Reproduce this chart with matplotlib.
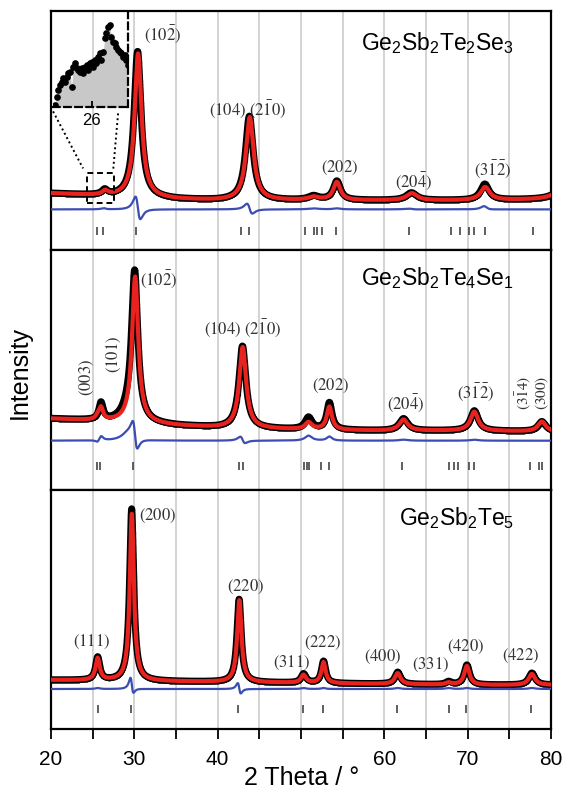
import numpy as np
import matplotlib.pyplot as plt
from matplotlib.patches import Rectangle

plt.rcParams["font.family"] = ["Liberation Sans", "DejaVu Sans"]
plt.rcParams["mathtext.fontset"] = "custom"
plt.rcParams["mathtext.rm"] = "Liberation Sans"
plt.rcParams["mathtext.it"] = "Liberation Sans:italic"

STEP = 0.02
two_theta = np.arange(20, 80 + STEP / 2, STEP)

# ---------------- Ge2Sb2Te2Se3 (top) ----------------
top_bg_pos = [20, 25, 30, 35, 40, 50, 60, 70, 80]
top_bg_val = [57, 55, 53, 51, 50, 50, 50, 50, 51]
top_calc_pos = [26.5, 30.45, 43.85, 51.5, 54.3, 63.3, 72.1, 81.5]
top_calc_h = [4, 144, 83, 3, 18, 7, 13, 14]
top_calc_w = [0.8, 1.0, 1.1, 1.5, 1.0, 1.5, 1.3, 2.0]
top_obs_pos = [26.45, 30.39, 43.8, 51.5, 54.3, 63.25, 72.05, 81.5]
top_obs_h = [5, 146, 84, 4, 19, 7.5, 16, 14]
top_obs_w = [0.8, 1.0, 1.1, 1.5, 1.0, 1.5, 1.2, 2.0]
top_diff_offset = 41
top_refl = [25.5, 26.3, 30.2, 42.8, 43.8, 50.5, 51.5, 51.9, 52.5, 54.2,
            63.0, 68.0, 69.1, 70.2, 70.7, 72.1, 77.8]
top_labels = [
    (r"$(10\bar{2})$", 31.2, 216, 0, "left", 12),
    (r"$(104)\ (2\bar{1}0)$", 43.6, 141, 0, "center", 12),
    (r"$(202)$", 54.6, 82, 0, "center", 12),
    (r"$(20\bar{4})$", 63.5, 69, 0, "center", 12),
    (r"$(3\bar{1}\bar{2})$", 73.0, 81, 0, "center", 12),
]

# ---------------- Ge2Sb2Te4Se1 (middle) ----------------
mid_bg_pos = [20, 25, 30, 35, 40, 45, 50, 60, 70, 80]
mid_bg_val = [71, 69, 67, 64, 62, 61, 60, 59, 59, 58]
mid_calc_pos = [25.6, 26.0, 30.1, 43.0, 50.9, 53.4, 62.3, 70.8, 78.9]
mid_calc_h = [3, 12, 146, 81, 7, 23, 11, 19, 10]
mid_calc_w = [0.6, 0.6, 0.9, 1.0, 1.0, 0.75, 1.2, 1.1, 1.1]
mid_obs_pos = [26.0, 29.2, 30.04, 42.97, 50.9, 53.4, 62.3, 70.8, 78.9]
mid_obs_h = [17, 7, 149, 82, 12, 27, 12, 20, 10]
mid_obs_w = [0.6, 1.8, 0.9, 1.0, 1.0, 0.75, 1.2, 1.1, 1.1]
mid_diff_offset = 49
mid_refl = [25.5, 25.9, 29.9, 42.6, 43.0, 50.3, 50.7, 50.9, 52.4, 53.3,
            62.1, 67.8, 68.3, 68.8, 70.2, 70.8, 77.5, 78.5, 78.9]
mid_labels = [
    (r"$(003)$", 24.3, 112, 90, "center", 12),
    (r"$(101)$", 27.6, 135, 90, "center", 12),
    (r"$(10\bar{2})$", 30.7, 210, 0, "left", 12),
    (r"$(104)\ (2\bar{1}0)$", 43.0, 161, 0, "center", 12),
    (r"$(202)$", 53.6, 104, 0, "center", 12),
    (r"$(20\bar{4})$", 62.5, 86, 0, "center", 12),
    (r"$(3\bar{1}\bar{2})$", 70.9, 97, 0, "center", 12),
    (r"$(3\bar{1}4)$", 76.8, 97, 90, "center", 11),
    (r"$(300)$", 78.95, 97, 90, "center", 11),
]

# ---------------- Ge2Sb2Te5 (bottom) ----------------
bot_bg_pos = [20, 30, 40, 50, 60, 70, 80]
bot_bg_val = [49, 48, 47, 46, 45, 44, 44]
bot_calc_pos = [25.6, 29.7, 42.6, 50.3, 52.7, 61.6, 67.7, 69.9, 77.7]
bot_calc_h = [22, 167, 82, 8, 21, 11, 2, 19, 11]
bot_calc_w = [0.6, 0.6, 0.62, 0.7, 0.6, 0.8, 0.8, 0.75, 0.9]
bot_obs_pos = [25.6, 29.68, 42.57, 50.3, 52.7, 61.6, 67.7, 69.9, 77.7]
bot_obs_h = [23, 172, 83, 9, 22, 12, 3, 20, 12]
bot_obs_w = [0.6, 0.6, 0.62, 0.7, 0.6, 0.8, 0.8, 0.75, 0.9]
bot_diff_offset = 40
bot_refl = [25.6, 29.6, 42.4, 50.2, 52.6, 61.5, 67.7, 69.8, 77.6]
bot_labels = [
    (r"$(111)$", 24.9, 87, 0, "center", 12),
    (r"$(200)$", 30.6, 213, 0, "left", 12),
    (r"$(220)$", 43.4, 142, 0, "center", 12),
    (r"$(311)$", 48.9, 66, 0, "center", 12),
    (r"$(222)$", 52.6, 86, 0, "center", 12),
    (r"$(400)$", 59.8, 72, 0, "center", 12),
    (r"$(331)$", 65.5, 64, 0, "center", 12),
    (r"$(420)$", 69.7, 82, 0, "center", 12),
    (r"$(422)$", 76.4, 73, 0, "center", 12),
]

titles = [r"Ge$_2$Sb$_2$Te$_2$Se$_3$", r"Ge$_2$Sb$_2$Te$_4$Se$_1$", r"Ge$_2$Sb$_2$Te$_5$"]
title_y = [0.866, 0.885, 0.882]
REFL_Y = [19, 24, 20]
x_ticks = [20, 30, 40, 50, 60, 70, 80]
x_ticklabels = ["20", "30", "40", "", "60", "70", "80"]

# zoomed view of the small bump around 26 deg in the top pattern
inset_x = np.linspace(24.39, 27.6, 45)
inset_obs = [2, 10.8, 17.7, 22.9, 26.4, 29.9, 26.4, 31.6, 35, 36.8, 21.2, 42, 45.5, 40.3, 38.5,
             36.8, 40.3, 35, 42, 43.7, 38.5, 45.5, 47.2, 42, 49, 45.5, 52.4, 55.9, 49, 57.6,
             71.5, 76.7, 83.7, 85.4, 73.3, 68, 66.3, 62.8, 59.4, 57.6, 55.9, 52.4, 54.2, 49, 43.7]


def profile(x, bg_pos, bg_val, pos, height, fwhm):
    y = np.interp(x, bg_pos, bg_val)
    for p, h, w in zip(pos, height, fwhm):
        y = y + h / (1 + (2 * (x - p) / w) ** 2)
    return y


panels = [
    (top_bg_pos, top_bg_val, top_calc_pos, top_calc_h, top_calc_w, top_obs_pos, top_obs_h, top_obs_w,
     top_diff_offset, top_refl, top_labels),
    (mid_bg_pos, mid_bg_val, mid_calc_pos, mid_calc_h, mid_calc_w, mid_obs_pos, mid_obs_h, mid_obs_w,
     mid_diff_offset, mid_refl, mid_labels),
    (bot_bg_pos, bot_bg_val, bot_calc_pos, bot_calc_h, bot_calc_w, bot_obs_pos, bot_obs_h, bot_obs_w,
     bot_diff_offset, bot_refl, bot_labels),
]

fig, axes = plt.subplots(3, 1, figsize=(5.64, 7.93), dpi=100, sharex=True)
fig.subplots_adjust(left=0.0904, right=0.977, top=0.986, bottom=0.0807, hspace=0)

for i, (ax, panel) in enumerate(zip(axes, panels)):
    bg_pos, bg_val, c_pos, c_h, c_w, o_pos, o_h, o_w, d_off, refl, labels = panel
    calc = profile(two_theta, bg_pos, bg_val, c_pos, c_h, c_w)
    obs = profile(two_theta, bg_pos, bg_val, o_pos, o_h, o_w)
    diff = obs - calc + d_off

    ax.plot(two_theta, obs, color="black", lw=5, zorder=2)
    ax.plot(two_theta, obs, "o", color="black", ms=2.8, zorder=2)
    ax.plot(two_theta, calc, color="#e8231f", lw=3, zorder=3)
    ax.plot(two_theta, diff, color="#3b4db3", lw=1.6, zorder=3)
    ax.plot(refl, [REFL_Y[i]] * len(refl), "|", color="#444444", ms=6, mew=1.2)

    for txt, x, y, rot, ha, fs in labels:
        ax.text(x, y, txt, rotation=rot, ha=ha, va="center", fontsize=fs, color="#333333",
                math_fontfamily="stix")
    ax.text(75.6, title_y[i], titles[i], transform=ax.get_xaxis_transform(), ha="right", va="center",
            fontsize=16.5)

    ax.set_xlim(20, 80)
    ax.set_ylim(0, 239.3)
    ax.set_yticks([])
    ax.set_xticks(x_ticks)
    ax.set_xticklabels(x_ticklabels)
    ax.set_xticks(np.arange(25, 80, 10), minor=True)
    ax.grid(axis="x", which="both", color="#cccccc", lw=1.2)
    ax.set_axisbelow(True)
    for sp in ax.spines.values():
        sp.set_linewidth(1.6)
    ax.tick_params(axis="x", which="both", direction="out", length=7, width=1.3, labelsize=15, pad=8)

for ax in axes[:2]:
    ax.tick_params(axis="x", which="both", length=0)

# inset + zoom box in the top panel
ax = axes[0]
ins = ax.inset_axes([0.004, 0.599, 0.150, 0.401])
ins.patch.set_alpha(0)
ins.fill_between(inset_x, 0, inset_obs, color="#c8c8c8", lw=0)
ins.plot(inset_x, inset_obs, "o", color="black", ms=3.8)
ins.set_xlim(24.3, 27.6)
ins.set_ylim(0, 100)
ins.set_yticks([])
ins.set_xticks([26])
ins.tick_params(axis="x", direction="in", length=4, width=1.3, labelsize=12, pad=4)
ins.spines["left"].set_visible(False)
ins.spines["top"].set_visible(False)
for side in ["right", "bottom"]:
    ins.spines[side].set_linestyle((0, (3, 2)))
    ins.spines[side].set_linewidth(1.6)

ax.add_patch(Rectangle((24.3, 47), 3.25, 30, fill=False, ls=(0, (3, 2)), lw=1.4, color="black", zorder=4))
ax.plot([20.25, 23.85], [139, 82], ls=(0, (1, 1.5)), color="black", lw=1.4)
ax.plot([28.05, 27.45], [137, 79], ls=(0, (1, 1.5)), color="black", lw=1.4)

fig.text(0.035, 0.53, "Intensity", rotation=90, ha="center", va="center", fontsize=18)
fig.text(0.534, 0.019, "2 Theta / °", ha="center", va="center", fontsize=18)

fig.savefig("out.png", dpi=100)
